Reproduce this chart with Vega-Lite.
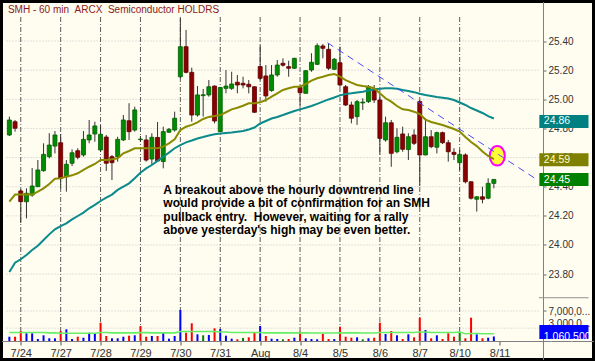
{
 "$schema": "https://vega.github.io/schema/vega-lite/v6.json",
 "width": 592,
 "height": 358,
 "padding": 1.5,
 "autosize": {"type": "none"},
 "background": "#fffcf0",
 "config": {
  "font": "Liberation Sans",
  "view": {"stroke": "#000000", "strokeWidth": 3, "fill": "#fffcf0"}
 },
 "datasets": {
  "bars": [
   {"i":0,"o":24.755,"h":24.881,"l":24.748,"c":24.858,"v":1000000,"d":"up","m1":24.297,"m2":23.815,"vm":2000000},
   {"i":1,"o":24.846,"h":24.858,"l":24.778,"c":24.801,"v":1000000,"d":"down","m1":24.346,"m2":23.879,"vm":2000000},
   {"i":2,"o":24.371,"h":24.384,"l":24.151,"c":24.297,"v":2330000,"d":"down","m1":24.346,"m2":23.902,"vm":2000000},
   {"i":3,"o":24.297,"h":24.389,"l":24.183,"c":24.355,"v":1800000,"d":"up","m1":24.346,"m2":23.931,"vm":2000000},
   {"i":4,"o":24.343,"h":24.528,"l":24.331,"c":24.405,"v":1800000,"d":"up","m1":24.346,"m2":23.966,"vm":2000000},
   {"i":5,"o":24.400,"h":24.583,"l":24.398,"c":24.515,"v":470000,"d":"up","m1":24.366,"m2":23.995,"vm":2000000},
   {"i":6,"o":24.510,"h":24.698,"l":24.503,"c":24.622,"v":1330000,"d":"up","m1":24.389,"m2":24.034,"vm":2000000},
   {"i":7,"o":24.606,"h":24.767,"l":24.595,"c":24.686,"v":630000,"d":"up","m1":24.419,"m2":24.073,"vm":1900000},
   {"i":8,"o":24.679,"h":24.782,"l":24.629,"c":24.755,"v":630000,"d":"up","m1":24.455,"m2":24.108,"vm":1900000},
   {"i":9,"o":24.702,"h":24.762,"l":24.389,"c":24.458,"v":2330000,"d":"down","m1":24.458,"m2":24.130,"vm":1800000},
   {"i":10,"o":24.469,"h":24.583,"l":24.366,"c":24.554,"v":2730000,"d":"up","m1":24.469,"m2":24.149,"vm":1800000},
   {"i":11,"o":24.561,"h":24.657,"l":24.542,"c":24.633,"v":470000,"d":"up","m1":24.478,"m2":24.176,"vm":1800000},
   {"i":12,"o":24.647,"h":24.664,"l":24.588,"c":24.602,"v":1000000,"d":"down","m1":24.492,"m2":24.199,"vm":1800000},
   {"i":13,"o":24.618,"h":24.782,"l":24.606,"c":24.725,"v":770000,"d":"up","m1":24.515,"m2":24.222,"vm":1800000},
   {"i":14,"o":24.721,"h":24.858,"l":24.698,"c":24.755,"v":1940000,"d":"up","m1":24.537,"m2":24.252,"vm":1800000},
   {"i":15,"o":24.762,"h":24.846,"l":24.709,"c":24.817,"v":1800000,"d":"up","m1":24.556,"m2":24.275,"vm":1800000},
   {"i":16,"o":24.652,"h":24.824,"l":24.638,"c":24.760,"v":4270000,"d":"down","m1":24.583,"m2":24.302,"vm":2000000},
   {"i":17,"o":24.741,"h":24.755,"l":24.508,"c":24.561,"v":1170000,"d":"down","m1":24.583,"m2":24.325,"vm":2000000},
   {"i":18,"o":24.606,"h":24.618,"l":24.446,"c":24.565,"v":630000,"d":"up","m1":24.588,"m2":24.346,"vm":1900000},
   {"i":19,"o":24.606,"h":24.743,"l":24.572,"c":24.725,"v":630000,"d":"up","m1":24.595,"m2":24.378,"vm":1900000},
   {"i":20,"o":24.721,"h":24.892,"l":24.714,"c":24.858,"v":1000000,"d":"up","m1":24.629,"m2":24.400,"vm":1900000},
   {"i":21,"o":24.853,"h":24.973,"l":24.721,"c":24.778,"v":1240000,"d":"down","m1":24.645,"m2":24.423,"vm":1900000},
   {"i":22,"o":24.789,"h":24.949,"l":24.778,"c":24.927,"v":1330000,"d":"up","m1":24.664,"m2":24.458,"vm":1900000},
   {"i":23,"o":24.723,"h":24.748,"l":24.707,"c":24.727,"v":3500000,"d":"down","m1":24.664,"m2":24.496,"vm":1950000},
   {"i":24,"o":24.721,"h":24.755,"l":24.572,"c":24.583,"v":1000000,"d":"down","m1":24.664,"m2":24.526,"vm":1950000},
   {"i":25,"o":24.590,"h":24.767,"l":24.549,"c":24.739,"v":1170000,"d":"up","m1":24.664,"m2":24.549,"vm":1900000},
   {"i":26,"o":24.738,"h":24.844,"l":24.572,"c":24.577,"v":1170000,"d":"down","m1":24.664,"m2":24.577,"vm":1900000},
   {"i":27,"o":24.573,"h":24.812,"l":24.526,"c":24.778,"v":2100000,"d":"up","m1":24.675,"m2":24.606,"vm":1900000},
   {"i":28,"o":24.774,"h":24.803,"l":24.769,"c":24.794,"v":540000,"d":"up","m1":24.698,"m2":24.634,"vm":1900000},
   {"i":29,"o":24.789,"h":24.915,"l":24.778,"c":24.870,"v":1170000,"d":"up","m1":24.725,"m2":24.664,"vm":1900000},
   {"i":30,"o":25.155,"h":25.556,"l":25.144,"c":25.361,"v":7230000,"d":"up","m1":24.789,"m2":24.686,"vm":2200000},
   {"i":31,"o":25.361,"h":25.476,"l":25.178,"c":25.185,"v":1940000,"d":"down","m1":24.812,"m2":24.704,"vm":2200000},
   {"i":32,"o":25.185,"h":25.217,"l":24.846,"c":24.892,"v":4130000,"d":"down","m1":24.824,"m2":24.717,"vm":2200000},
   {"i":33,"o":24.892,"h":25.091,"l":24.881,"c":25.030,"v":1560000,"d":"up","m1":24.842,"m2":24.731,"vm":2200000},
   {"i":34,"o":25.025,"h":25.071,"l":24.881,"c":25.031,"v":1330000,"d":"flat","m1":24.865,"m2":24.741,"vm":2200000},
   {"i":35,"o":25.030,"h":25.132,"l":25.018,"c":25.086,"v":1400000,"d":"up","m1":24.879,"m2":24.752,"vm":2200000},
   {"i":36,"o":25.091,"h":25.095,"l":24.835,"c":24.851,"v":2960000,"d":"down","m1":24.885,"m2":24.760,"vm":2200000},
   {"i":37,"o":24.778,"h":25.084,"l":24.775,"c":25.081,"v":2800000,"d":"up","m1":24.892,"m2":24.765,"vm":2100000},
   {"i":38,"o":25.075,"h":25.201,"l":25.041,"c":25.091,"v":1240000,"d":"up","m1":24.911,"m2":24.769,"vm":2100000},
   {"i":39,"o":25.075,"h":25.189,"l":25.064,"c":25.105,"v":540000,"d":"up","m1":24.931,"m2":24.772,"vm":2000000},
   {"i":40,"o":25.117,"h":25.167,"l":25.041,"c":25.098,"v":400000,"d":"down","m1":24.942,"m2":24.777,"vm":2000000},
   {"i":41,"o":25.110,"h":25.155,"l":25.075,"c":25.098,"v":700000,"d":"flat","m1":24.956,"m2":24.782,"vm":2000000},
   {"i":42,"o":25.103,"h":25.132,"l":25.041,"c":25.086,"v":860000,"d":"down","m1":24.973,"m2":24.793,"vm":2000000},
   {"i":43,"o":25.086,"h":25.090,"l":24.906,"c":24.911,"v":1940000,"d":"down","m1":24.973,"m2":24.806,"vm":2000000},
   {"i":44,"o":25.225,"h":25.373,"l":25.132,"c":25.144,"v":3500000,"d":"up","m1":24.979,"m2":24.834,"vm":2000000},
   {"i":45,"o":25.160,"h":25.235,"l":24.984,"c":25.023,"v":1170000,"d":"down","m1":24.995,"m2":24.851,"vm":1900000},
   {"i":46,"o":25.060,"h":25.235,"l":25.052,"c":25.167,"v":540000,"d":"up","m1":25.018,"m2":24.868,"vm":1900000},
   {"i":47,"o":25.167,"h":25.270,"l":25.155,"c":25.235,"v":470000,"d":"up","m1":25.041,"m2":24.879,"vm":1900000},
   {"i":48,"o":25.247,"h":25.281,"l":25.224,"c":25.234,"v":400000,"d":"flat","m1":25.064,"m2":24.892,"vm":1900000},
   {"i":49,"o":25.224,"h":25.265,"l":25.155,"c":25.213,"v":470000,"d":"down","m1":25.076,"m2":24.906,"vm":1900000},
   {"i":50,"o":25.213,"h":25.285,"l":25.208,"c":25.281,"v":770000,"d":"up","m1":25.086,"m2":24.920,"vm":1900000},
   {"i":51,"o":25.082,"h":25.098,"l":24.949,"c":25.045,"v":2170000,"d":"down","m1":25.086,"m2":24.931,"vm":1900000},
   {"i":52,"o":25.041,"h":25.201,"l":25.041,"c":25.196,"v":630000,"d":"up","m1":25.105,"m2":24.942,"vm":1900000},
   {"i":53,"o":25.201,"h":25.316,"l":25.189,"c":25.254,"v":470000,"d":"up","m1":25.128,"m2":24.954,"vm":1850000},
   {"i":54,"o":25.240,"h":25.384,"l":25.235,"c":25.368,"v":400000,"d":"up","m1":25.144,"m2":24.969,"vm":1850000},
   {"i":55,"o":25.366,"h":25.380,"l":25.281,"c":25.350,"v":1630000,"d":"down","m1":25.155,"m2":24.984,"vm":1850000},
   {"i":56,"o":25.343,"h":25.384,"l":25.201,"c":25.213,"v":470000,"d":"down","m1":25.167,"m2":24.999,"vm":1850000},
   {"i":57,"o":25.206,"h":25.283,"l":25.201,"c":25.275,"v":470000,"d":"up","m1":25.174,"m2":25.012,"vm":1850000},
   {"i":58,"o":25.251,"h":25.361,"l":25.086,"c":25.098,"v":3340000,"d":"down","m1":25.155,"m2":25.027,"vm":1900000},
   {"i":59,"o":25.086,"h":25.098,"l":24.954,"c":24.961,"v":1000000,"d":"down","m1":25.132,"m2":25.036,"vm":1900000},
   {"i":60,"o":24.961,"h":24.984,"l":24.835,"c":24.870,"v":770000,"d":"down","m1":25.114,"m2":25.041,"vm":1900000},
   {"i":61,"o":24.881,"h":24.995,"l":24.824,"c":24.984,"v":860000,"d":"up","m1":25.098,"m2":25.047,"vm":1900000},
   {"i":62,"o":24.975,"h":25.007,"l":24.927,"c":24.981,"v":400000,"d":"flat","m1":25.091,"m2":25.052,"vm":1850000},
   {"i":63,"o":24.984,"h":25.098,"l":24.975,"c":25.086,"v":630000,"d":"up","m1":25.086,"m2":25.060,"vm":1850000},
   {"i":64,"o":25.069,"h":25.098,"l":24.975,"c":24.995,"v":770000,"d":"down","m1":25.076,"m2":25.069,"vm":1850000},
   {"i":65,"o":24.995,"h":25.030,"l":24.620,"c":24.732,"v":4270000,"d":"down","m1":25.041,"m2":25.072,"vm":2000000},
   {"i":66,"o":24.721,"h":24.881,"l":24.709,"c":24.839,"v":1630000,"d":"up","m1":25.007,"m2":25.076,"vm":2000000},
   {"i":67,"o":24.839,"h":24.858,"l":24.537,"c":24.629,"v":2330000,"d":"down","m1":24.984,"m2":25.076,"vm":2000000},
   {"i":68,"o":24.640,"h":24.801,"l":24.629,"c":24.739,"v":1330000,"d":"up","m1":24.954,"m2":25.073,"vm":2000000},
   {"i":69,"o":24.762,"h":24.812,"l":24.640,"c":24.657,"v":470000,"d":"down","m1":24.931,"m2":25.064,"vm":2000000},
   {"i":70,"o":24.655,"h":24.767,"l":24.583,"c":24.743,"v":1560000,"d":"up","m1":24.927,"m2":25.057,"vm":2000000},
   {"i":71,"o":24.755,"h":24.794,"l":24.686,"c":24.698,"v":860000,"d":"down","m1":24.915,"m2":25.049,"vm":2000000},
   {"i":72,"o":24.984,"h":24.995,"l":24.405,"c":24.618,"v":5440000,"d":"down","m1":24.899,"m2":25.038,"vm":2100000},
   {"i":73,"o":24.618,"h":24.870,"l":24.615,"c":24.743,"v":2570000,"d":"up","m1":24.861,"m2":25.030,"vm":2100000},
   {"i":74,"o":24.743,"h":24.789,"l":24.664,"c":24.675,"v":630000,"d":"down","m1":24.844,"m2":25.023,"vm":2000000},
   {"i":75,"o":24.671,"h":24.778,"l":24.629,"c":24.771,"v":1330000,"d":"up","m1":24.834,"m2":25.016,"vm":2000000},
   {"i":76,"o":24.771,"h":24.778,"l":24.693,"c":24.702,"v":470000,"d":"down","m1":24.824,"m2":25.011,"vm":2000000},
   {"i":77,"o":24.702,"h":24.721,"l":24.572,"c":24.640,"v":1800000,"d":"down","m1":24.810,"m2":25.006,"vm":2000000},
   {"i":78,"o":24.636,"h":24.664,"l":24.583,"c":24.622,"v":1000000,"d":"down","m1":24.796,"m2":24.995,"vm":2000000},
   {"i":79,"o":24.565,"h":24.652,"l":24.515,"c":24.622,"v":2100000,"d":"flat","m1":24.779,"m2":24.978,"vm":2100000},
   {"i":80,"o":24.618,"h":24.629,"l":24.423,"c":24.434,"v":630000,"d":"down","m1":24.741,"m2":24.961,"vm":1700000},
   {"i":81,"o":24.434,"h":24.436,"l":24.312,"c":24.321,"v":5440000,"d":"down","m1":24.707,"m2":24.940,"vm":1750000},
   {"i":82,"o":24.314,"h":24.333,"l":24.229,"c":24.331,"v":1560000,"d":"up","m1":24.679,"m2":24.923,"vm":1750000},
   {"i":83,"o":24.331,"h":24.400,"l":24.286,"c":24.314,"v":630000,"d":"down","m1":24.642,"m2":24.906,"vm":1700000},
   {"i":84,"o":24.321,"h":24.458,"l":24.314,"c":24.423,"v":770000,"d":"up","m1":24.611,"m2":24.885,"vm":1700000},
   {"i":85,"o":24.423,"h":24.452,"l":24.389,"c":24.450,"v":1060500,"d":"up","m1":24.590,"m2":24.868,"vm":1700000}
  ],
  "days": [{"i":2},{"i":9},{"i":16},{"i":23},{"i":30},{"i":37},{"i":44},{"i":51},{"i":58},{"i":65},{"i":72},{"i":79}],
  "pgrid": [{"p":23.8},{"p":24.0},{"p":24.2},{"p":24.4},{"p":24.6},{"p":24.8},{"p":25.0},{"p":25.2},{"p":25.4}],
  "vgrid": [{"v":3000000},{"v":7000000}],
  "trend": [{"i":55.81,"p":25.388},{"i":92.67,"p":24.446}],
  "mark": [{"i":85.6,"p":24.612}],
  "last": [{"s":"ma40","p":24.86},{"s":"ma20","p":24.59},{"s":"last","p":24.45}],
  "vlast": [{"v":1060500}],
  "one": [{"k":1}]
 },
 "layer": [
  {
   "data": {"name": "pgrid"},
   "mark": {"type": "rule", "color": "#c4c4c4", "strokeDash": [1, 2], "strokeWidth": 1},
   "encoding": {
    "x": {"datum": -0.501, "type": "quantitative", "title": null, "scale": {"domain": [-0.501, 101.603], "nice": false, "zero": false}},
    "x2": {"datum": 92.893},
    "y": {"field": "p", "type": "quantitative", "axis": null, "scale": {"domain": [23.2141, 25.6712], "nice": false, "zero": false}}
   }
  },
  {
   "data": {"name": "vgrid"},
   "mark": {"type": "rule", "color": "#c4c4c4", "strokeDash": [1, 2], "strokeWidth": 1},
   "encoding": {
    "x": {"datum": -0.501, "type": "quantitative", "title": null, "scale": {"domain": [-0.501, 101.603], "nice": false, "zero": false}},
    "x2": {"datum": 92.893},
    "y": {"field": "v", "type": "quantitative", "title": null,
     "scale": {"domain": [-4316667, 79216667], "nice": false, "zero": false},
     "axis": {"orient": "right", "offset": -50.5, "values": [3000000, 7000000], "domain": false, "grid": false,
      "labelExpr": "substring(format(datum.value, ','), 0, 7) + '...'",
      "labelBaseline": {"condition": {"test": "datum.value == 3000000", "value": "bottom"}, "value": "middle"},
      "tickSize": 3, "tickColor": "#666", "labelPadding": 2, "labelFontSize": 10, "labelColor": "#333"}}
   }
  },
  {
   "data": {"name": "days"},
   "mark": {"type": "rule", "color": "#5a5a5a", "strokeDash": [5, 2, 1, 2], "strokeWidth": 1},
   "encoding": {
    "x": {"field": "i", "type": "quantitative", "title": null, "scale": {"domain": [-0.501, 101.603], "nice": false, "zero": false}},
    "y": {"datum": 25.565, "type": "quantitative", "axis": null, "scale": {"domain": [23.2141, 25.6712], "nice": false, "zero": false}},
    "y2": {"datum": 23.341}
   }
  },
  {
   "data": {"name": "bars"},
   "mark": {"type": "bar", "width": 2},
   "encoding": {
    "x": {"field": "i", "type": "quantitative", "title": null, "scale": {"domain": [-0.501, 101.603], "nice": false, "zero": false}},
    "y": {"field": "v", "type": "quantitative", "axis": null, "scale": {"domain": [-4316667, 79216667], "nice": false, "zero": false}},
    "y2": {"datum": 0},
    "color": {"field": "d", "type": "nominal", "legend": null, "scale": {"domain": ["up", "down", "flat"], "range": ["#0000ff", "#ff0000", "#008000"]}}
   }
  },
  {
   "data": {"name": "bars"},
   "mark": {"type": "line", "color": "#66ee66", "strokeWidth": 1.6},
   "encoding": {
    "x": {"field": "i", "type": "quantitative", "title": null, "scale": {"domain": [-0.501, 101.603], "nice": false, "zero": false}},
    "y": {"field": "vm", "type": "quantitative", "axis": null, "scale": {"domain": [-4316667, 79216667], "nice": false, "zero": false}}
   }
  },
  {
   "data": {"name": "bars"},
   "mark": {"type": "rule", "color": "#333333", "strokeWidth": 1},
   "encoding": {
    "x": {"field": "i", "type": "quantitative", "title": null,
     "scale": {"domain": [-0.501, 101.603], "nice": false, "zero": false},
     "axis": {"orient": "bottom", "offset": -18.5, "values": [2, 9, 16, 23, 30, 37, 44, 51, 58, 65, 72, 79, 86],
      "labelExpr": "['7/24','7/27','7/28','7/29','7/30','7/31','Aug','8/4','8/5','8/6','8/7','8/10','8/11'][round((datum.value-2)/7)]",
      "grid": false, "domainColor": "#808080", "tickColor": "#555", "tickSize": 4, "labelColor": "#333", "labelFontSize": 11,
      "labelPadding": 2, "labelFlush": false, "labelOverlap": false}},
    "y": {"field": "l", "type": "quantitative", "title": null,
     "scale": {"domain": [23.2141, 25.6712], "nice": false, "zero": false},
     "axis": {"orient": "right", "offset": -50.5, "values": [23.8, 24.0, 24.2, 24.4, 24.6, 24.8, 25.0, 25.2, 25.4], "format": ".2f",
      "grid": false, "domainColor": "#808080", "tickColor": "#666", "tickSize": 3, "labelPadding": 2, "labelFontSize": 10, "labelColor": "#333"}},
    "y2": {"field": "h"}
   }
  },
  {
   "data": {"name": "bars"},
   "mark": {"type": "bar", "width": 4, "strokeWidth": 0.8},
   "encoding": {
    "x": {"field": "i", "type": "quantitative", "title": null, "scale": {"domain": [-0.501, 101.603], "nice": false, "zero": false}},
    "y": {"field": "o", "type": "quantitative", "axis": null, "scale": {"domain": [23.2141, 25.6712], "nice": false, "zero": false}},
    "y2": {"field": "c"},
    "fill": {"condition": {"test": "datum.c >= datum.o", "value": "#008c00"}, "value": "#8b0000"},
    "stroke": {"condition": {"test": "datum.c >= datum.o", "value": "#005c00"}, "value": "#5c0000"}
   }
  },
  {
   "data": {"name": "mark"},
   "mark": {"type": "point", "shape": "M -0.77 0 A 0.77 1 0 1 0 0.77 0 A 0.77 1 0 1 0 -0.77 0 Z", "size": 384, "filled": true, "fill": "#ffff33", "stroke": "#ff00ff", "strokeWidth": 2, "opacity": 1, "fillOpacity": 1},
   "encoding": {
    "x": {"field": "i", "type": "quantitative", "title": null, "scale": {"domain": [-0.501, 101.603], "nice": false, "zero": false}},
    "y": {"field": "p", "type": "quantitative", "axis": null, "scale": {"domain": [23.2141, 25.6712], "nice": false, "zero": false}}
   }
  },
  {
   "data": {"name": "bars"},
   "mark": {"type": "line", "color": "#0a8a8a", "strokeWidth": 2},
   "encoding": {
    "x": {"field": "i", "type": "quantitative", "title": null, "scale": {"domain": [-0.501, 101.603], "nice": false, "zero": false}},
    "y": {"field": "m2", "type": "quantitative", "axis": null, "scale": {"domain": [23.2141, 25.6712], "nice": false, "zero": false}}
   }
  },
  {
   "data": {"name": "bars"},
   "mark": {"type": "line", "color": "#8a8a00", "strokeWidth": 2},
   "encoding": {
    "x": {"field": "i", "type": "quantitative", "title": null, "scale": {"domain": [-0.501, 101.603], "nice": false, "zero": false}},
    "y": {"field": "m1", "type": "quantitative", "axis": null, "scale": {"domain": [23.2141, 25.6712], "nice": false, "zero": false}}
   }
  },
  {
   "data": {"name": "trend"},
   "mark": {"type": "line", "color": "#4b4bff", "strokeWidth": 1, "strokeDash": [7, 5]},
   "encoding": {
    "x": {"field": "i", "type": "quantitative", "title": null, "scale": {"domain": [-0.501, 101.603], "nice": false, "zero": false}},
    "y": {"field": "p", "type": "quantitative", "axis": null, "scale": {"domain": [23.2141, 25.6712], "nice": false, "zero": false}}
   }
  },
  {
   "data": {"name": "one"},
   "mark": {"type": "text", "align": "left", "baseline": "alphabetic", "fontSize": 12, "fontWeight": "bold", "color": "#000000", "lineHeight": 13.3,
    "text": ["A breakout above the hourly downtrend line", "would provide a bit of confirmation for an SMH", "pullback entry.\u00a0 However, waiting for a rally", "above yesterday's high may be even better."]},
   "encoding": {
    "x": {"datum": 27.01, "type": "quantitative", "title": null, "scale": {"domain": [-0.501, 101.603], "nice": false, "zero": false}},
    "y": {"datum": 24.35, "type": "quantitative", "axis": null, "scale": {"domain": [23.2141, 25.6712], "nice": false, "zero": false}}
   }
  },
  {
   "data": {"name": "one"},
   "mark": {"type": "text", "align": "left", "baseline": "alphabetic", "fontSize": 10, "color": "#8b1a1a",
    "text": "SMH - 60 min\u00a0\u00a0ARCX\u00a0\u00a0Semiconductor HOLDRS"},
   "encoding": {
    "x": {"datum": -0.25, "type": "quantitative", "title": null, "scale": {"domain": [-0.501, 101.603], "nice": false, "zero": false}},
    "y": {"datum": 25.59, "type": "quantitative", "axis": null, "scale": {"domain": [23.2141, 25.6712], "nice": false, "zero": false}}
   }
  },
  {
   "data": {"name": "one"},
   "mark": {"type": "rule", "color": "#909090", "strokeWidth": 1},
   "encoding": {
    "x": {"datum": 92.893, "type": "quantitative", "title": null, "scale": {"domain": [-0.501, 101.603], "nice": false, "zero": false}},
    "x2": {"datum": 101.603},
    "y": {"datum": 23.638, "type": "quantitative", "axis": null, "scale": {"domain": [23.2141, 25.6712], "nice": false, "zero": false}}
   }
  },
  {
   "data": {"name": "last"},
   "mark": {"type": "bar", "height": 13, "orient": "horizontal"},
   "encoding": {
    "x": {"datum": 92.98, "type": "quantitative", "title": null, "scale": {"domain": [-0.501, 101.603], "nice": false, "zero": false}},
    "x2": {"datum": 101.603},
    "y": {"field": "p", "type": "quantitative", "axis": null, "scale": {"domain": [23.2141, 25.6712], "nice": false, "zero": false}},
    "color": {"field": "s", "type": "nominal", "legend": null, "scale": {"domain": ["ma40", "ma20", "last"], "range": ["#008080", "#808000", "#008000"]}}
   }
  },
  {
   "data": {"name": "last"},
   "mark": {"type": "text", "align": "left", "baseline": "middle", "dx": 5, "dy": 1, "fontSize": 10.5},
   "encoding": {
    "x": {"datum": 92.893, "type": "quantitative", "title": null, "scale": {"domain": [-0.501, 101.603], "nice": false, "zero": false}},
    "y": {"field": "p", "type": "quantitative", "axis": null, "scale": {"domain": [23.2141, 25.6712], "nice": false, "zero": false}},
    "text": {"field": "p", "type": "quantitative", "format": ".2f"},
    "color": {"field": "s", "type": "nominal", "legend": null, "scale": {"domain": ["ma40", "ma20", "last"], "range": ["#eaffff", "#ffffd0", "#ffffff"]}}
   }
  },
  {
   "data": {"name": "vlast"},
   "mark": {"type": "bar", "height": 14, "orient": "horizontal", "color": "#0000ff"},
   "encoding": {
    "x": {"datum": 92.98, "type": "quantitative", "title": null, "scale": {"domain": [-0.501, 101.603], "nice": false, "zero": false}},
    "x2": {"datum": 101.603},
    "y": {"field": "v", "type": "quantitative", "axis": null, "scale": {"domain": [-4316667, 79216667], "nice": false, "zero": false}}
   }
  },
  {
   "data": {"name": "vlast"},
   "mark": {"type": "text", "align": "left", "baseline": "middle", "dx": 5, "dy": 1, "fontSize": 10.5, "color": "#ffffff"},
   "encoding": {
    "x": {"datum": 92.893, "type": "quantitative", "title": null, "scale": {"domain": [-0.501, 101.603], "nice": false, "zero": false}},
    "y": {"field": "v", "type": "quantitative", "axis": null, "scale": {"domain": [-4316667, 79216667], "nice": false, "zero": false}},
    "text": {"field": "v", "type": "quantitative", "format": ","}
   }
  }
 ],
 "resolve": {"scale": {"y": "independent", "color": "independent"}}
}
